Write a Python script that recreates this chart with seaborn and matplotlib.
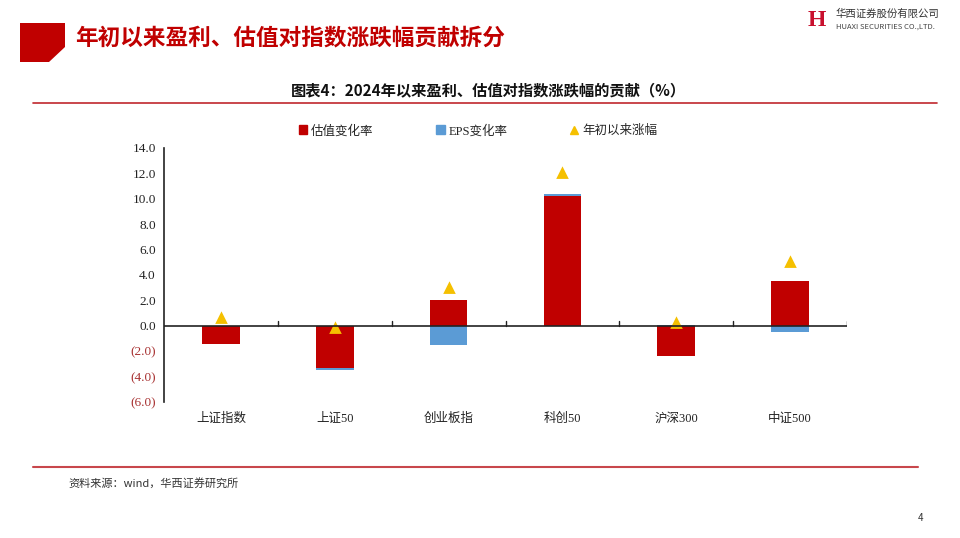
import numpy as np
import pandas as pd
import matplotlib
matplotlib.use("Agg")
import matplotlib.pyplot as plt
from matplotlib.patches import Polygon, Patch
from matplotlib.lines import Line2D
import seaborn as sns

# data
categories = ["上证指数", "上证50", "创业板指", "科创50", "沪深300", "中证500"]
valuation_chg = [-1.4, -3.3, 2.0, 10.25, -2.4, 3.5]
eps_chg = [0.0, -0.15, -1.5, 0.15, 0.1, -0.5]
ytd_return = [0.6, -0.15, 2.95, 12.05, 0.2, 5.0]
y_ticks = [-6, -4, -2, 0, 2, 4, 6, 8, 10, 12, 14]

RED = "#C00000"
BLUE = "#5B9BD5"
GOLD = "#F5C000"

sns.set_theme(style="white")
plt.rcParams["font.family"] = ["Noto Sans CJK SC", "DejaVu Sans"]
serif = ["Liberation Serif", "Noto Sans CJK SC"]

df = pd.DataFrame({"index": categories, "val": valuation_chg,
                   "eps": eps_chg, "ytd": ytd_return})
# excel-style stacking: eps sits on the valuation bar when signs match
df["eps_bottom"] = np.where(np.sign(df["eps"]) == np.sign(df["val"]), df["val"], 0.0)

fig = plt.figure(figsize=(9.6, 5.38), dpi=100)
ax = fig.add_axes([164 / 960, 1 - 402 / 538, (847 - 164) / 960, (402 - 148) / 538])

sns.barplot(data=df, x="index", y="val", color=RED, width=0.33,
            saturation=1, ax=ax, order=categories, linewidth=0)
sns.barplot(data=df, x="index", y="eps", color=BLUE, width=0.33,
            saturation=1, ax=ax, order=categories, linewidth=0,
            bottom=df["eps_bottom"].values)
sns.pointplot(data=df, x="index", y="ytd", color=GOLD, marker="^",
              linestyle="none", markersize=5.5, ax=ax, order=categories)

ax.set_xlim(-0.5, 5.5)
ax.set_ylim(-6, 14)
ax.set_yticks(y_ticks)
ax.set_yticklabels([f"({abs(v):.1f})" if v < 0 else f"{v:.1f}" for v in y_ticks],
                   fontfamily="Liberation Serif", fontsize=9.5)
for lab, v in zip(ax.get_yticklabels(), y_ticks):
    lab.set_color("#A83232" if v < 0 else "#222222")
ax.set_xlabel("")
ax.set_ylabel("")
ax.set_xticks(range(len(categories)))
ax.set_xticklabels(categories, fontfamily=serif, fontsize=9, color="#222222")
ax.tick_params(axis="x", length=0, pad=8)
ax.tick_params(axis="y", direction="in", length=4, width=1, color="#222222", pad=6)

for s in ["top", "right", "bottom"]:
    ax.spines[s].set_visible(False)
ax.spines["left"].set_color("#222222")
ax.spines["left"].set_linewidth(1.2)
ax.axhline(0, color="#222222", lw=1.2, zorder=5)
# category boundary ticks on the zero line
for b in np.arange(0.5, 5.6, 1.0):
    ax.plot([b, b], [0, 0.35], color="#222222", lw=1.0, zorder=5)

handles = [Patch(color=RED), Patch(color=BLUE),
           Line2D([], [], color=GOLD, marker="^", linestyle="none", markersize=6)]
fig.legend(handles, ["估值变化率", "EPS变化率", "年初以来涨幅"],
           loc="center", bbox_to_anchor=(478 / 960, 1 - 131 / 538), ncol=3,
           frameon=False, handlelength=0.7, handletextpad=0.3,
           columnspacing=5.0, prop={"family": serif, "size": 9})

# page decorations
fig.patches.append(Polygon([(20 / 960, 1 - 23 / 538), (65 / 960, 1 - 23 / 538),
                            (65 / 960, 1 - 47 / 538), (49 / 960, 1 - 62 / 538),
                            (20 / 960, 1 - 62 / 538)],
                           closed=True, transform=fig.transFigure,
                           facecolor=RED, edgecolor="none"))
fig.text(75 / 960, 1 - 38 / 538, "年初以来盈利、估值对指数涨跌幅贡献拆分",
         fontsize=16.3, fontweight="bold", color=RED, va="center", ha="left")
fig.text(817 / 960, 1 - 20 / 538, "H", fontsize=17, fontweight="bold",
         color="#C8102E", fontfamily="Liberation Serif", va="center", ha="center")
fig.text(836 / 960, 1 - 14 / 538, "华西证券股份有限公司", fontsize=7.5,
         color="#333333", va="center", ha="left")
fig.text(836 / 960, 1 - 27 / 538, "HUAXI SECURITIES CO.,LTD.", fontsize=5.5,
         color="#444444", va="center", ha="left")
fig.text(488 / 960, 1 - 90 / 538, "图表4：2024年以来盈利、估值对指数涨跌幅的贡献（%）",
         fontsize=11, fontweight="bold", color="#111111", va="center", ha="center")
fig.add_artist(Line2D([33 / 960, 937 / 960], [1 - 103 / 538, 1 - 103 / 538],
                      color="#C0282D", lw=1.2, transform=fig.transFigure))
fig.add_artist(Line2D([33 / 960, 918 / 960], [1 - 467 / 538, 1 - 467 / 538],
                      color="#C8474C", lw=1.5, transform=fig.transFigure))
fig.text(68 / 960, 1 - 483 / 538, "资料来源：wind，华西证券研究所", fontsize=8,
         fontstyle="italic", color="#333333", va="center", ha="left")
fig.text(920 / 960, 1 - 518 / 538, "4", fontsize=7, color="#333333",
         va="center", ha="center")

fig.savefig("out.png", dpi=100)
